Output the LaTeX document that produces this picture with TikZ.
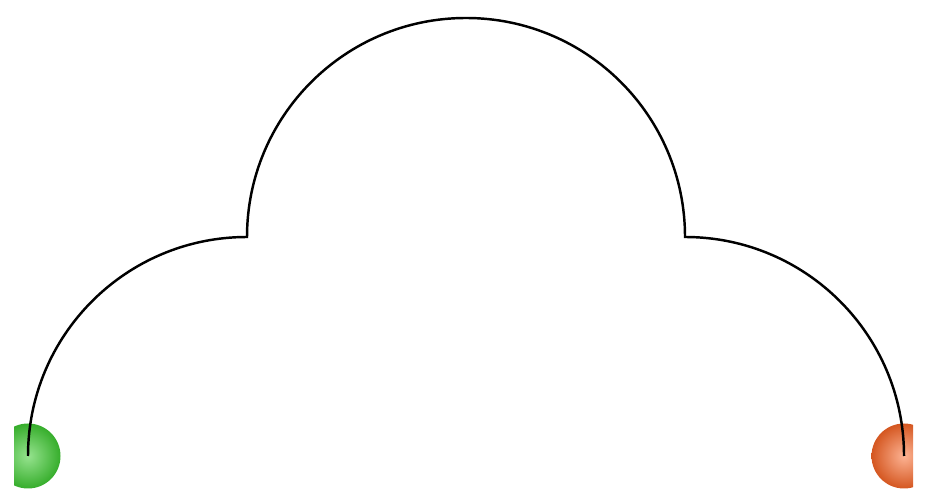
\documentclass[tikz,border=0pt]{standalone}
\begin{document}
\begin{tikzpicture}
\definecolor{startgreen}{rgb}{0.25, 0.8, 0.2}
\definecolor{stopred}{rgb}{0.98, 0.4, 0.15}
\tikzset{ball/.style={circle, minimum size=0.65cm, inner sep=0pt}}
\useasboundingbox (0, 0) rectangle (9.28, 5.03);
\clip (0.14, 0) rectangle (9.13, 5.03);

\node[ball, inner color=startgreen!55!white, outer color=startgreen!85!black]
  (start) at (0.28, 0.47) {};
\node[ball, inner color=stopred!50!white, outer color=stopred!85!black]
  (stop) at (9.04, 0.47) {};

\draw[line width=0.7pt] (start.center)
  arc[start angle=180, end angle=90, radius=2.19] coordinate (left)
  arc[start angle=180, end angle=0, radius=2.19] coordinate (right)
  arc[start angle=90, end angle=0, radius=2.19];

\end{tikzpicture}
\end{document}
